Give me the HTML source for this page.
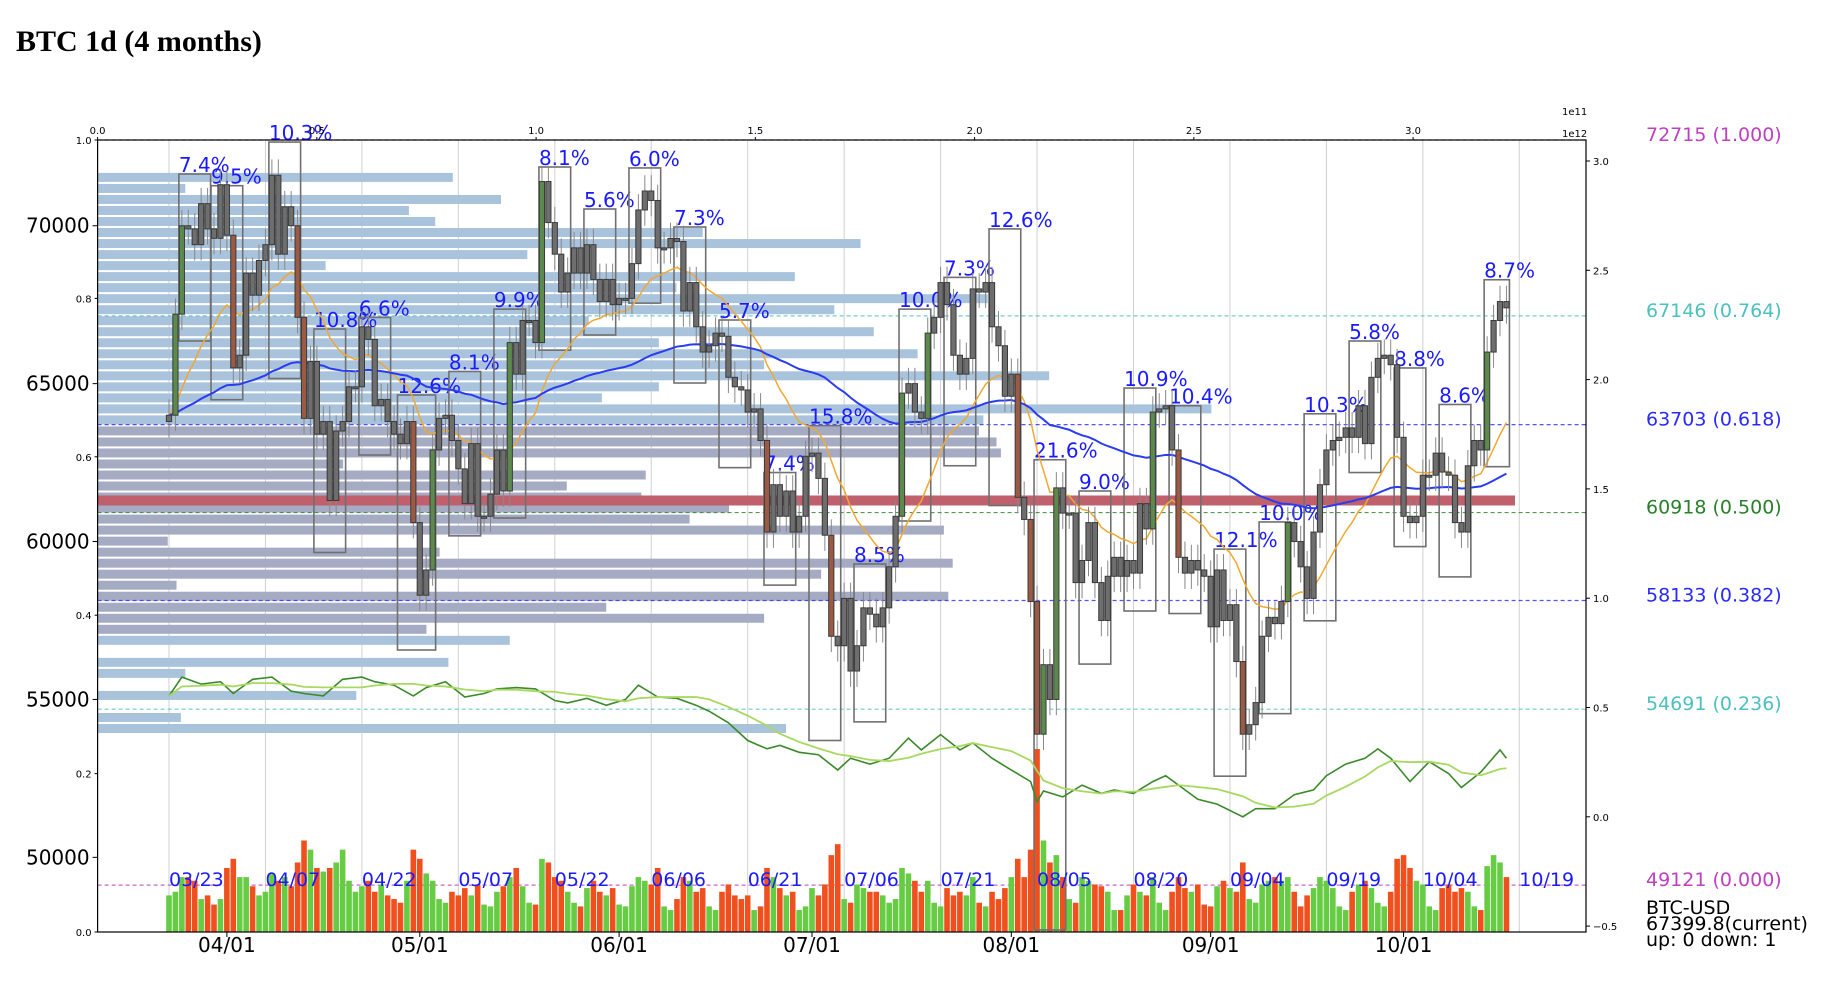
<!DOCTYPE html>
<html><head><meta charset="utf-8">
<style>
html,body{margin:0;padding:0;background:#fff;}
body{width:1834px;height:986px;overflow:hidden;position:relative;font-family:"DejaVu Sans","Liberation Sans",sans-serif;}
#title{position:absolute;left:16px;top:25px;font-family:"Liberation Serif",serif;font-weight:bold;font-size:30px;color:#000;}
svg{position:absolute;left:0;top:0;}
</style></head>
<body>
<div id="title">BTC 1d (4 months)</div>
<svg id="chart" width="1834" height="986"></svg>
<script>
const startMonthDays = [["03",23,31],["04",1,30],["05",1,31],["06",1,30],["07",1,31],["08",1,31],["09",1,30],["10",1,17]];
const closes = [
64000,67200,70000,69900,69400,70700,69900,69600,71300,
69700,65500,65900,68500,67800,68900,69400,71600,69100,70600,70000,67100,63900,65700,63400,63800,61300,63500,63800,64900,64900,66800,66400,64300,64500,63800,63400,63100,63800,60600,
58300,59100,62900,63900,64000,63200,62300,61200,63100,60800,60800,61500,62900,61600,66300,65300,67000,67000,66300,71400,70100,69100,67900,68500,69300,68500,69400,68300,67600,68300,67500,
67700,67700,68800,70500,71100,70800,69300,69300,69600,69500,67300,68200,66800,66000,66200,66600,66500,65200,64900,64800,64100,64200,63200,60300,61800,60800,61600,60300,60800,62700,
62800,62000,60200,57000,56700,58200,55900,56700,57900,57700,57300,57900,59200,60800,64700,65000,64100,63900,66600,67100,68200,67500,65900,65300,65800,68000,67900,68200,66800,66200,64600,
65300,61400,60700,58100,53900,56100,55000,61700,60900,60900,58700,59400,60600,58700,57500,58900,59500,58900,59400,59000,61200,60400,64100,64200,64300,62900,59500,59000,59400,59100,58900,
57300,59100,57500,58000,56200,53900,54200,54900,57000,57600,57400,58100,60600,60000,59200,58200,60300,61800,62900,63200,63300,63600,63300,64300,63100,65200,65800,65900,65600,63300,
60800,60600,60800,62100,62100,62800,62200,62100,60600,60300,62400,63200,62900,66000,67000,67600,67400];
const volumes = [
20,22,30,30,28,18,20,15,18,
35,40,30,30,25,20,22,32,28,30,25,38,50,45,35,33,35,38,45,28,22,25,28,22,26,20,18,16,28,45,
40,32,28,18,16,22,20,24,20,26,15,14,22,25,30,35,25,16,15,40,38,30,28,22,16,14,24,28,22,20,24,
15,14,25,30,28,26,35,14,12,18,30,28,22,24,14,12,22,26,20,18,20,12,14,35,30,24,20,22,12,14,
24,20,26,42,48,18,16,26,24,22,22,20,16,18,35,32,28,22,28,16,14,24,20,22,20,30,16,14,22,18,24,
30,40,30,45,100,50,38,42,30,18,16,30,28,26,25,22,12,12,20,26,22,20,30,16,12,22,30,24,22,26,15,
14,25,28,24,22,38,18,16,26,28,30,28,30,22,14,20,24,30,28,24,14,12,22,26,28,24,16,14,22,40,
42,35,28,26,14,12,24,26,22,24,22,14,12,36,42,38,30];
const boxStart = [2,7,16,23,30,36,44,51,58,65,72,79,86,93,100,107,114,121,128,135,142,149,156,163,170,177,184,191,198,205];
const boxEnd   = [6,11,20,27,34,41,48,55,62,69,76,83,90,97,104,111,118,125,132,139,146,153,160,167,174,181,188,195,202,208];
const boxLow   = [66350,64491,65163,59653,62740,56565,60180,60745,66060,66540,67550,65020,62340,58620,53700,54290,60650,62400,61140,47700,56120,57800,57720,52570,54550,57490,62185,59840,58880,62370];
const boxHigh  = [71638,71268,72650,66730,67097,64640,65385,67360,71860,70530,71830,69960,67015,62185,63670,59290,67360,68365,69900,62590,61600,64860,64300,59760,60620,64045,66350,65496,64340,68290];
const boxLabels= ["7.4%","9.5%","10.3%","10.8%","6.6%","12.6%","8.1%","9.9%","8.1%","5.6%","6.0%","7.3%","5.7%","7.4%","15.8%","8.5%","10.0%","7.3%","12.6%","21.6%","9.0%","10.9%","10.4%","12.1%","10.0%","10.3%","5.8%","8.8%","8.6%","8.7%"];
const vpValues = [0.81,0.20,0.92,0.71,0.77,1.38,1.74,0.98,0.52,1.59,1.32,2.03,1.68,1.12,1.77,1.28,1.87,1.52,2.17,1.28,1.15,2.54,2.02,2.01,2.05,2.06,0.56,1.25,1.07,1.24,1.44,1.35,1.93,0.16,0.78,1.95,1.65,0.18,1.94,1.16,1.52,0.75,0.94,0,0.80,0.20,0,0.59,0,0.19,1.57];
const vpTopPrice = 71530, vpStep = 349;
const indDays = [0,2,5,8,10,13,16,19,21,24,27,30,32,35,38,40,43,46,49,51,54,57,60,62,65,68,71,73,76,79,82,84,87,90,93,95,98,101,104,106,109,112,115,117,120,123,125,128,131,134,135,136,139,142,145,147,150,153,155,157,160,163,167,169,172,175,178,180,183,186,188,190,193,196,199,201,204,207,208];
const indVals = [0.553,0.639,0.607,0.618,0.564,0.629,0.639,0.575,0.564,0.553,0.629,0.639,0.618,0.602,0.553,0.591,0.618,0.548,0.564,0.585,0.591,0.585,0.532,0.521,0.542,0.510,0.537,0.602,0.548,0.542,0.510,0.483,0.430,0.349,0.311,0.327,0.295,0.284,0.214,0.268,0.241,0.268,0.360,0.306,0.376,0.306,0.338,0.268,0.214,0.161,0.069,0.118,0.091,0.145,0.107,0.123,0.107,0.161,0.188,0.145,0.080,0.058,0.0,0.037,0.037,0.101,0.123,0.188,0.241,0.268,0.311,0.268,0.161,0.252,0.198,0.134,0.204,0.306,0.268];
const fibPrices = [72715,67146,63703,60918,58133,54691,49121];
const fibLabels = ["72715 (1.000)","67146 (0.764)","63703 (0.618)","60918 (0.500)","58133 (0.382)","54691 (0.236)","49121 (0.000)"];
const fibColors = ["#bf40bf","#4cc0c0","#2a2aff","#2a7f2a","#2a2aff","#4cc0c0","#bf40bf"];
const priceTicks = [70000,65000,60000,55000,50000];
const monthTickLabels = ["04/01","05/01","06/01","07/01","08/01","09/01","10/01"];
const monthTickDays = [9,39,70,100,131,162,192];
const leftFracTicks = ["1.0","0.8","0.6","0.4","0.2","0.0"];
const topTicks = ["0.0","0.5","1.0","1.5","2.0","2.5","3.0"];
const rightTicks = ["3.0","2.5","2.0","1.5","1.0","0.5","0.0","\u22120.5"];

const L=97.6,R=1586,T=140,B=932;
const xDay = d => 169 + 6.43*d;
const yP = p => 140 + (72715-p)*0.03158;
const yInd = v => 161 + (3.0 - v)*218.6;
const xVP = v => L + v*438.5;
const yVol = v => B - v*1.83;
const NS="http://www.w3.org/2000/svg";
const svg=document.getElementById('chart');
function mk(tag,attrs,parent){const e=document.createElementNS(NS,tag);for(const k in attrs)e.setAttribute(k,attrs[k]);(parent||svg).appendChild(e);return e;}

const dates=[];startMonthDays.forEach(([m,s,e])=>{for(let d=s;d<=e;d++)dates.push(m+"/"+String(d).padStart(2,"0"));});
const opens=closes.map((c,i)=>i===0?63800:closes[i-1]);

const grid=mk('g',{});


for(let d=0;d<=210;d+=15){mk('line',{x1:xDay(d),x2:xDay(d),y1:T,y2:B,stroke:'#d0d0d0','stroke-width':1},grid);}

const vp=mk('g',{});


vpValues.forEach((v,i)=>{const p=vpTopPrice-i*vpStep;const y=yP(p);if(v<=0)return;
 const col=(p<63703&&p>57000)?'#a6abc4':'#a9c3dd';
 const r=mk('rect',{x:L,y:y-4.5,width:xVP(v)-L,height:9,fill:col},vp);
 
 });
const poc=mk('rect',{x:L,y:yP(61300)-5,width:1515-L,height:10,fill:'#c0606c'});



fibPrices.forEach((p,i)=>{const ln=mk('line',{x1:L,x2:R,y1:yP(p),y2:yP(p),stroke:fibColors[i],'stroke-width':1.2,'stroke-dasharray':'4,3',opacity:0.8});
 
 
 const t=mk('text',{x:1646,y:yP(p)+1,fill:fibColors[i],'font-size':19});t.textContent=fibLabels[i];
 
 });

const vg=mk('g',{});


volumes.forEach((v,i)=>{const up=closes[i]>=opens[i];
 const r=mk('rect',{x:xDay(i)-2.8,y:yVol(v),width:5.6,height:B-yVol(v),fill:up?'#66cc44':'#f0501e'},vg);
 
 });

boxStart.forEach((s,i)=>{const x1=xDay(s)-3,x2=xDay(boxEnd[i])+3;
 const r=mk('rect',{x:x1,y:yP(boxHigh[i]),width:x2-x1,height:yP(boxLow[i])-yP(boxHigh[i]),fill:'none',stroke:'#707070','stroke-width':1.6});
 
 
 const t=mk('text',{x:x1,y:yP(boxHigh[i])-2,fill:'#1a1aff','font-size':20});t.textContent=boxLabels[i];
 
 });

function ema(span){const a=2/(span+1);let e=closes[0];return closes.map(c=>{e=a*c+(1-a)*e;return e;});}
[[20,'#f0a830',1.5,'ma-fast-line'],[100,'#2a3cf0',2,'ma-slow-line']].forEach(([w,c,sw,n])=>{
 const m=ema(w);const pl=mk('polyline',{points:m.map((v,i)=>xDay(i)+','+yP(v)).join(' '),fill:'none',stroke:c,'stroke-width':sw});
 
 });

const cg=mk('g',{});


closes.forEach((c,i)=>{const o=opens[i];const x=xDay(i);const hi=Math.max(o,c),lo=Math.min(o,c);
 mk('line',{x1:x,x2:x,y1:yP(hi+500),y2:yP(lo-500),stroke:'#888','stroke-width':1},cg);
 const ch=(c-o)/o;let f='#6e6e6e';if(ch>0.04)f='#5c8a4c';else if(ch<-0.04)f='#9a5a44';
 const h=Math.max(2,yP(lo)-yP(hi));
 const r=mk('rect',{x:x-2.6,y:yP(hi),width:5.2,height:h,fill:f,stroke:'#3a3a3a','stroke-width':1},cg);
 
 });

const ip=mk('polyline',{points:indDays.map((d,i)=>xDay(d)+','+yInd(indVals[i])).join(' '),fill:'none',stroke:'#3a8a2a','stroke-width':1.6});


const sm=indVals.map((v,i)=>{const a=indVals.slice(Math.max(0,i-4),i+1);return a.reduce((s,x)=>s+x,0)/a.length;});
const ip2=mk('polyline',{points:indDays.map((d,i)=>xDay(d)+','+yInd(sm[i])).join(' '),fill:'none',stroke:'#a8d860','stroke-width':1.8});



for(let d=0;d<=210;d+=15){let lab;if(d<dates.length)lab=dates[d];else lab="10/19";
 const t=mk('text',{x:xDay(d),y:886,fill:'#1a1aff','font-size':19});t.textContent=lab;
 
 }

const fr=mk('rect',{x:L,y:T,width:R-L,height:B-T,fill:'none',stroke:'#000','stroke-width':1.2});



priceTicks.forEach(p=>{mk('line',{x1:L-5,x2:L,y1:yP(p),y2:yP(p),stroke:'#000'});
 const t=mk('text',{x:L-8,y:yP(p)+7,'text-anchor':'end','font-size':20,fill:'#000'});t.textContent=p;
 
 });
leftFracTicks.forEach((s,i)=>{const y=T+i*(B-T)/5;mk('line',{x1:L-3,x2:L,y1:y,y2:y,stroke:'#000'});
 const t=mk('text',{x:L-6,y:y+4,'text-anchor':'end','font-size':10,fill:'#000'});t.textContent=s;
 
 });
topTicks.forEach((s,i)=>{const x=xVP(i*0.5);mk('line',{x1:x,x2:x,y1:T-3,y2:T,stroke:'#000'});
 const t=mk('text',{x:x,y:T-6,'text-anchor':'middle','font-size':10,fill:'#000'});t.textContent=s;
 
 });
rightTicks.forEach((s,i)=>{const y=yInd(3.0-i*0.5);mk('line',{x1:R,x2:R+4,y1:y,y2:y,stroke:'#000'});
 const t=mk('text',{x:R+7,y:y+4,'font-size':10,fill:'#000'});t.textContent=s;
 
 });
[["1e11",115],["1e12",137]].forEach(([s,y])=>{const t=mk('text',{x:1562,y:y,'font-size':10,fill:'#000'});t.textContent=s;
 
 });
monthTickDays.forEach((d,i)=>{mk('line',{x1:xDay(d),x2:xDay(d),y1:B,y2:B+5,stroke:'#000'});
 const t=mk('text',{x:xDay(d),y:952,'text-anchor':'middle','font-size':20,fill:'#000'});t.textContent=monthTickLabels[i];
 
 });
[["BTC-USD",914],["67399.8(current)",930],["up: 0 down: 1",946]].forEach(([s,y])=>{const t=mk('text',{x:1646,y:y,'font-size':19,fill:'#000'});t.textContent=s;
 
 });
</script>
</body></html>
